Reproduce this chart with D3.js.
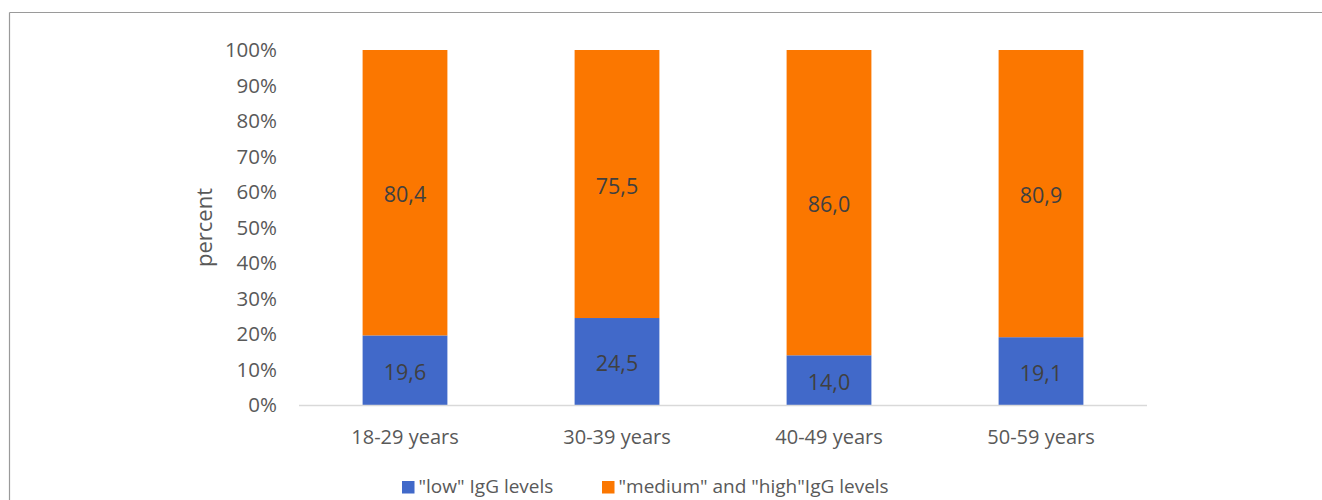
<!DOCTYPE html>
<html>
<head>
<meta charset="utf-8">
<script src="https://cdn.jsdelivr.net/npm/d3@7"></script>
<style>
  html, body { margin: 0; padding: 0; background: #fff; }
  svg { display: block; font-family: "Open Sans", sans-serif; }
</style>
</head>
<body>
<svg id="chart" width="1322" height="500"></svg>
<script>
// Age groups and IgG level shares (percent)
const categories = ["18-29 years", "30-39 years", "40-49 years", "50-59 years"];
const lowValues = [19.6, 24.5, 14.0, 19.1];
const mediumHighValues = [80.4, 75.5, 86.0, 80.9];
const seriesNames = ['"low" IgG levels', '"medium" and "high"IgG levels'];
const yTicks = [0, 10, 20, 30, 40, 50, 60, 70, 80, 90, 100];

const colors = ["#4169c9", "#fb7700"];
const textColor = "#595959";

const svg = d3.select("#chart");

// frame lines
svg.append("line").attr("x1", 9.5).attr("x2", 1322).attr("y1", 12.5).attr("y2", 12.5)
  .attr("stroke", "#9a9a9a").attr("stroke-width", 1.2);
svg.append("line").attr("x1", 9.5).attr("x2", 9.5).attr("y1", 12.5).attr("y2", 500)
  .attr("stroke", "#9a9a9a").attr("stroke-width", 1.2);

const plot = { left: 299, right: 1147, top: 50, bottom: 405 };

const x = d3.scaleBand().domain(categories).range([plot.left, plot.right]).paddingInner(0.6).paddingOuter(0.3);
const y = d3.scaleLinear().domain([0, 100]).range([plot.bottom, plot.top]);

const rows = categories.map((c, i) => ({ cat: c, low: lowValues[i], mh: mediumHighValues[i] }));
const stacked = d3.stack().keys(["low", "mh"])(rows);

// y axis labels
const yAxis = d3.axisLeft(y).tickValues(yTicks).tickFormat(d => d + "%").tickSize(0).tickPadding(0);
const ya = svg.append("g").attr("transform", `translate(${plot.left - 22},0)`).call(yAxis);
ya.select(".domain").remove();
ya.selectAll("text").attr("fill", textColor).style("font-size", "20.5px")
  .style("font-family", "'Open Sans', sans-serif");

// stacked bars
const layers = svg.append("g").selectAll("g").data(stacked).join("g")
  .attr("fill", (d, i) => colors[i]);
layers.selectAll("rect").data(d => d).join("rect")
  .attr("x", d => x(d.data.cat))
  .attr("width", x.bandwidth())
  .attr("y", d => y(d[1]))
  .attr("height", d => y(d[0]) - y(d[1]));

// value labels in segment centres
layers.each(function (layer) {
  d3.select(this).selectAll("text").data(layer).join("text")
    .attr("x", d => x(d.data.cat) + x.bandwidth() / 2)
    .attr("y", d => y((d[0] + d[1]) / 2) + 2)
    .attr("dy", "0.35em")
    .attr("text-anchor", "middle")
    .attr("fill", "#404040")
    .style("font-size", "21.5px")
    .text(d => (d[1] - d[0]).toFixed(1).replace(".", ","));
});

// x axis baseline and category labels
const xAxis = d3.axisBottom(x).tickSize(0).tickPadding(0);
const xa = svg.append("g").attr("transform", `translate(0,${plot.bottom})`).call(xAxis);
xa.select(".domain").attr("stroke", "#d9d9d9").attr("stroke-width", 1.5)
  .attr("d", `M${plot.left},0.5H${plot.right}`);
xa.selectAll("text").attr("fill", textColor).attr("dy", "0").attr("y", 39)
  .style("font-size", "20px").style("font-family", "'Open Sans', sans-serif");

// y axis title
svg.append("text")
  .attr("transform", `translate(212,${(plot.top + plot.bottom) / 2}) rotate(-90)`)
  .attr("text-anchor", "middle")
  .attr("fill", textColor)
  .style("font-size", "22px")
  .text("percent");

// legend
const legendX = [402, 602];
const legend = svg.append("g").selectAll("g").data(seriesNames).join("g")
  .attr("transform", (d, i) => `translate(${legendX[i]},481)`);
legend.append("rect").attr("width", 12.5).attr("height", 12.5).attr("fill", (d, i) => colors[i]);
legend.append("text").attr("x", 16.5).attr("y", 5.5).attr("dy", "0.35em")
  .attr("fill", textColor).style("font-size", "19px").text(d => d);
</script>
</body>
</html>
